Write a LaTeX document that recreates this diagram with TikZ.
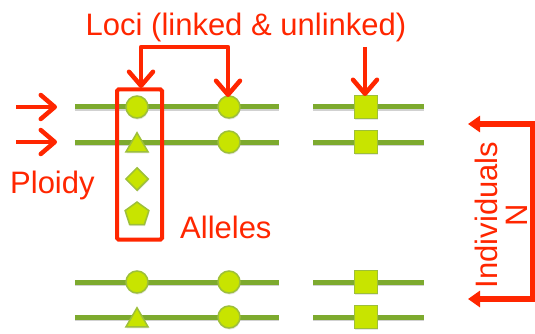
\documentclass[tikz,border=0pt]{standalone}
\usepackage{fontspec}
\setmainfont{Liberation Sans}
\usetikzlibrary{arrows.meta,shapes.geometric,shadows}
\definecolor{chrom}{HTML}{7DAA2E}
\definecolor{allfill}{HTML}{C8E400}
\definecolor{allline}{HTML}{9DBF3A}
\definecolor{lred}{HTML}{FF2600}
\tikzset{
  chromline/.style={draw=chrom,line width=5pt},
  allele/.style={fill=allfill,draw=allline,line width=1.5pt,inner sep=0pt,
    drop shadow={shadow xshift=0.6pt,shadow yshift=-1.6pt,opacity=0.2}},
  circ/.style={allele,circle,minimum size=22pt},
  sq/.style={allele,rectangle,minimum size=23pt},
  tri/.style={allele,regular polygon,regular polygon sides=3,minimum size=25.5pt},
  dia/.style={allele,diamond,minimum size=23pt},
  pent/.style={allele,regular polygon,regular polygon sides=5,minimum size=25pt},
  barb/.style={draw=lred,line width=4.5pt,line join=round,
    -{Straight Barb[length=14pt 0,width=24pt 0,line cap=round,round]}},
  fatarrow/.style={draw=lred,line width=6pt,-{Triangle[length=12pt 0,width=16pt 0]}},
  lbl/.style={text=lred,font=\fontsize{31}{30}\selectfont,inner sep=0pt}
}
\begin{document}
\begin{tikzpicture}[x=1pt,y=-1pt]
\useasboundingbox (0,0) rectangle (535,334);
% chromosome lines
\foreach \n/\y in {a/107,b/142,c/282,d/317}{
  \coordinate (L\n1) at (75,\y);
  \coordinate (L\n2) at (279,\y);
  \coordinate (R\n1) at (313,\y);
  \coordinate (R\n2) at (424,\y);
  \draw[draw=black!18,line width=5pt] ([yshift=-1.5pt]L\n1) -- ([yshift=-1.5pt]L\n2);
  \draw[draw=black!18,line width=5pt] ([yshift=-1.5pt]R\n1) -- ([yshift=-1.5pt]R\n2);
  \draw[chromline] (L\n1) -- (L\n2);
  \draw[chromline] (R\n1) -- (R\n2);
}
% alleles
\node[circ] (a1) at (137,107) {};
\node[circ] (a2) at (229,107) {};
\node[sq]   (a3) at (366,107) {};
\node[tri]  (b1) at (137,145.5) {};
\node[circ] (b2) at (229,142) {};
\node[sq]   (b3) at (366,142) {};
\node[dia]  (x1) at (137,179) {};
\node[pent] (x2) at (137,214.5) {};
\node[circ] (c1) at (137,282) {};
\node[circ] (c2) at (229,282) {};
\node[sq]   (c3) at (366,282) {};
\node[tri]  (d1) at (137,320.5) {};
\node[circ] (d2) at (229,317) {};
\node[sq]   (d3) at (366,317) {};
% allele box
\node[draw=lred,line width=4pt,rounded corners=1.5pt,minimum width=45pt,minimum height=150pt,inner sep=0pt] (box) at (139.5,164.5) {};
% labels
\node[lbl,anchor=base] (loci) at (246,36) {Loci (linked \& unlinked)};
\node[lbl,anchor=base west] (ploidy) at (10,193) {Ploidy};
\node[lbl,anchor=base west] (alleles) at (180,238) {Alleles};
\node[lbl,rotate=90,align=center] (indiv) at (501,215) {Individuals\\N};
% loci arrows
\coordinate (k1) at (141,47);
\coordinate (k2) at (228,47);
\coordinate (k3) at (365,47);
\coordinate (t1) at (141,88);
\coordinate (t2) at (228,97);
\coordinate (t3) at (365,96);
\draw[barb] (k2) -- (k1) -- (t1);
\draw[barb] (k1) -- (k2) -- (t2);
\draw[barb] (k3) -- (t3);
% ploidy arrows
\coordinate (p1s) at (16,107);
\coordinate (p1e) at (57,107);
\coordinate (p2s) at (16,142);
\coordinate (p2e) at (57,142);
\draw[barb] (p1s) -- (p1e);
\draw[barb] (p2s) -- (p2e);
% individuals bracket
\coordinate (i1) at (532,124);
\coordinate (i2) at (532,299);
\coordinate (i1e) at (468,124);
\coordinate (i2e) at (468,299);
\draw[draw=lred,line width=5pt] (i1) -- (i2);
\draw[fatarrow] ([xshift=3pt]i1) -- (i1e);
\draw[fatarrow] ([xshift=3pt]i2) -- (i2e);
\end{tikzpicture}
\end{document}
